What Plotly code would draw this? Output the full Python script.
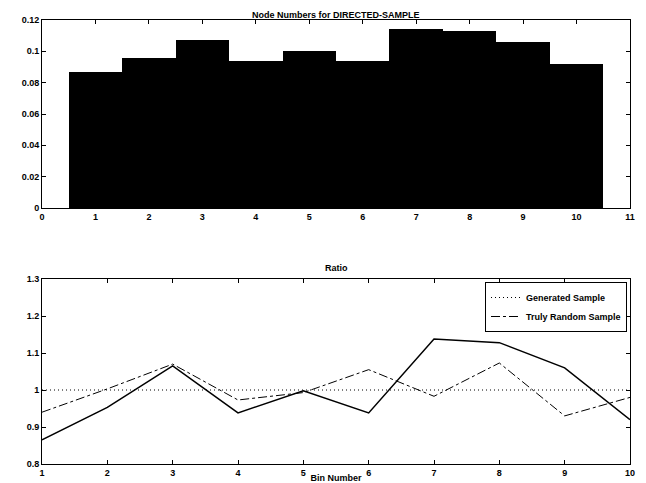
import plotly.graph_objects as go

bins = [1, 2, 3, 4, 5, 6, 7, 8, 9, 10]
node_fraction = [0.087, 0.0955, 0.107, 0.094, 0.100, 0.094, 0.114, 0.113, 0.106, 0.092]
ratio_solid = [0.865, 0.953, 1.065, 0.938, 0.998, 0.938, 1.138, 1.128, 1.06, 0.92]
ratio_random = [0.94, 1.003, 1.07, 0.973, 0.993, 1.055, 0.983, 1.073, 0.93, 0.98]
ratio_one = [1.0] * 10

FAM = "Liberation Sans, Arial, sans-serif"
FONT = dict(family=FAM, size=9, color="black", weight="bold")

fig = go.Figure()
fig.add_trace(go.Bar(x=bins, y=node_fraction, width=1.0, marker=dict(color="black", line=dict(width=0)),
                     xaxis="x", yaxis="y", showlegend=False))
fig.add_trace(go.Scatter(x=bins, y=ratio_solid, mode="lines", line=dict(color="black", width=1.5),
                         xaxis="x2", yaxis="y2", showlegend=False))
fig.add_trace(go.Scatter(x=bins, y=ratio_one, mode="lines", line=dict(color="black", width=1, dash="1px,3px"),
                         xaxis="x2", yaxis="y2", name="Generated Sample"))
fig.add_trace(go.Scatter(x=bins, y=ratio_random, mode="lines", line=dict(color="black", width=1, dash="dashdot"),
                         xaxis="x2", yaxis="y2", name="Truly Random Sample"))

axcommon = dict(showline=True, linecolor="black", linewidth=1, mirror="ticks", ticks="inside",
                ticklen=4, tickcolor="black", showgrid=False, zeroline=False, tickfont=FONT)

fig.update_layout(
    width=646, height=483,
    margin=dict(l=0, r=0, t=0, b=0, autoexpand=False),
    paper_bgcolor="white", plot_bgcolor="white",
    font=FONT,
    bargap=0,
    xaxis=dict(domain=[42 / 646, 630 / 646], range=[0, 11], tickvals=list(range(0, 12)), anchor="y", **axcommon),
    yaxis=dict(domain=[1 - 208 / 483, 1 - 20 / 483], range=[0, 0.12], tickvals=[0, 0.02, 0.04, 0.06, 0.08, 0.1, 0.12],
               ticktext=["0", "0.02", "0.04", "0.06", "0.08", "0.1", "0.12"], anchor="x", **axcommon),
    xaxis2=dict(domain=[42 / 646, 630 / 646], range=[1, 10], tickvals=bins, anchor="y2",
                title=dict(text="Bin Number", font=FONT, standoff=0), **axcommon),
    yaxis2=dict(domain=[1 - 464 / 483, 1 - 279 / 483], range=[0.8, 1.3], tickvals=[0.8, 0.9, 1.0, 1.1, 1.2, 1.3],
                ticktext=["0.8", "0.9", "1", "1.1", "1.2", "1.3"], anchor="x2", **axcommon),
    legend=dict(x=627 / 646, y=1 - 282 / 483, xanchor="right", yanchor="top", bgcolor="white",
                bordercolor="black", borderwidth=1, font=dict(family=FAM, size=9, color="black", weight="bold"),
                tracegroupgap=0, itemwidth=30),
    annotations=[
        dict(text="Node Numbers for DIRECTED-SAMPLE", x=336 / 646, y=1 - 8 / 483, xref="paper", yref="paper",
             showarrow=False, font=dict(family=FAM, size=9, color="black", weight="bold")),
        dict(text="Ratio", x=336 / 646, y=1 - 268 / 483, xref="paper", yref="paper",
             showarrow=False, font=dict(family=FAM, size=9, color="black", weight="bold")),
    ],
)

fig.write_html("out.html", config={"displayModeBar": False},
               post_script="document.body.style.margin='0px';document.body.style.overflow='hidden';")
